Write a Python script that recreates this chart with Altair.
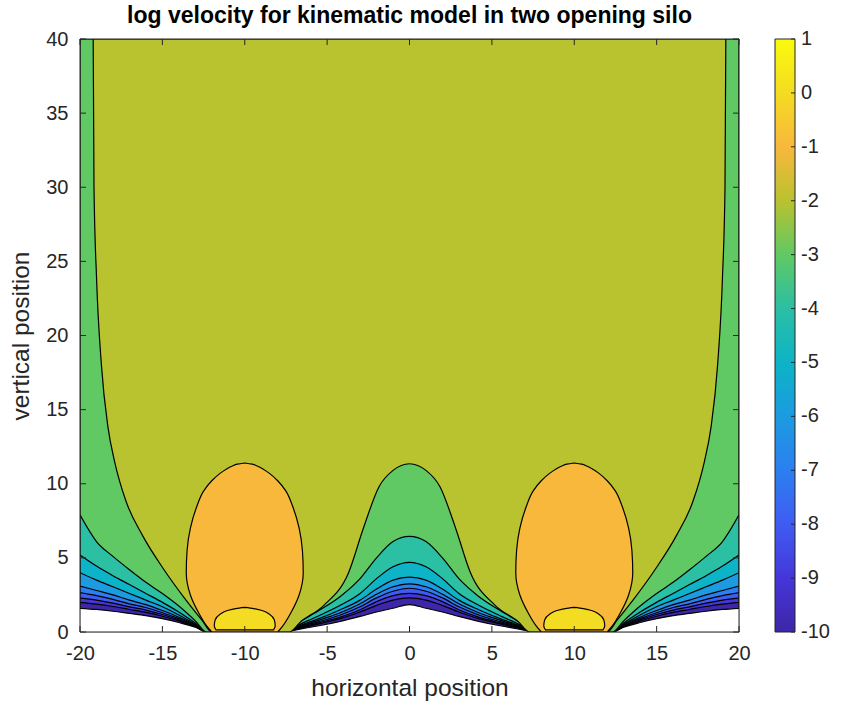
import altair as alt
import pandas as pd

# ---- plot geometry (pixels) ----
W, H = 659, 593
FONT = "Liberation Sans"
AX = "#262626"
TICK_FS = 20
LABEL_FS = 24.5
TITLE_FS = 23
LINE_W = 1.2

# ---- contour levels and their fill colours (parula, one per level) ----
LEVELS = [-10, -9, -8, -7, -6, -5, -4, -3, -2, -1, 0, 1]
PARULA = ["#3e26a8", "#4536d9", "#3f5cf2", "#2c7ff0", "#1c9be0", "#0db3c6",
          "#2bbfa4", "#60c963", "#b9c22f", "#f8b83c", "#f4dc22", "#f9fb0e"]

# ---- contour lines of the lower levels, y sampled at shared x positions ----
X_LOW = [-20, -19, -18, -17, -16, -15, -14, -13, -12.3,
         -7.7, -6.5, -5.5, -4.2, -3, -2, -1, 0, 1, 2, 3, 4.2, 5.5, 6.5, 7.7,
         12.3, 13, 14, 15, 16, 17, 18, 19, 20]
Y_LOW = {
    -3: [7.9, 6.1, 5.1, 4.2, 3.35, 2.6, 1.75, 0.75, 0,
         0, 0.8, 1.45, 2.4, 3.6, 5.0, 6.1, 6.45, 6.1, 5.0, 3.6, 2.4, 1.45, 0.8, 0,
         0, 0.75, 1.75, 2.6, 3.35, 4.2, 5.1, 6.1, 7.9],
    -4: [5.2, 4.45, 3.8, 3.2, 2.6, 2.0, 1.35, 0.6, 0,
         0, 0.6, 1.1, 1.8, 2.6, 3.6, 4.4, 4.7, 4.4, 3.6, 2.6, 1.8, 1.1, 0.6, 0,
         0, 0.6, 1.35, 2.0, 2.6, 3.2, 3.8, 4.45, 5.2],
    -5: [4.0, 3.5, 3.05, 2.6, 2.15, 1.7, 1.15, 0.52, 0,
         0, 0.5, 0.9, 1.5, 2.15, 2.9, 3.5, 3.7, 3.5, 2.9, 2.15, 1.5, 0.9, 0.5, 0,
         0, 0.52, 1.15, 1.7, 2.15, 2.6, 3.05, 3.5, 4.0],
    -6: [3.1, 2.8, 2.5, 2.15, 1.85, 1.45, 1.0, 0.47, 0,
         0, 0.45, 0.8, 1.3, 1.9, 2.55, 3.05, 3.25, 3.05, 2.55, 1.9, 1.3, 0.8, 0.45, 0,
         0, 0.47, 1.0, 1.45, 1.85, 2.15, 2.5, 2.8, 3.1],
    -7: [2.65, 2.45, 2.2, 1.9, 1.65, 1.3, 0.9, 0.43, 0,
         0, 0.4, 0.7, 1.15, 1.7, 2.3, 2.75, 2.95, 2.75, 2.3, 1.7, 1.15, 0.7, 0.4, 0,
         0, 0.43, 0.9, 1.3, 1.65, 1.9, 2.2, 2.45, 2.65],
    -8: [2.3, 2.15, 1.95, 1.7, 1.48, 1.18, 0.82, 0.4, 0,
         0, 0.35, 0.62, 1.0, 1.5, 2.05, 2.45, 2.6, 2.45, 2.05, 1.5, 1.0, 0.62, 0.35, 0,
         0, 0.4, 0.82, 1.18, 1.48, 1.7, 1.95, 2.15, 2.3],
    -9: [2.0, 1.88, 1.72, 1.52, 1.32, 1.06, 0.74, 0.36, 0,
         0, 0.3, 0.55, 0.9, 1.35, 1.8, 2.15, 2.3, 2.15, 1.8, 1.35, 0.9, 0.55, 0.3, 0,
         0, 0.36, 0.74, 1.06, 1.32, 1.52, 1.72, 1.88, 2.0],
    -10: [1.6, 1.52, 1.4, 1.25, 1.1, 0.9, 0.64, 0.32, 0,
          0, 0.22, 0.42, 0.72, 1.05, 1.35, 1.6, 1.85, 1.6, 1.35, 1.05, 0.72, 0.42, 0.22, 0,
          0, 0.32, 0.64, 0.9, 1.1, 1.25, 1.4, 1.52, 1.6],
}

# ---- the -2 contour: rises along both walls, dips to the openings, bump at centre ----
X_M2 = [-19.2, -19.15, -19.0, -18.7, -18.3, -17.9, -17.2, -16.2, -14.9, -13.6, -12.6, -12.0,
        -7.3, -6.6, -5.2, -3.7, -2.8, -1.85, -1, 0, 1, 1.85, 2.8, 3.7, 5.2, 6.6, 7.3,
        12.0, 12.6, 13.6, 14.9, 16.2, 17.2, 17.9, 18.3, 18.7, 19.0, 19.15, 19.2]
Y_M2 = [40, 30, 24, 18, 13.8, 11.5, 8.8, 6.5, 4.2, 2.2, 0.8, 0,
        0, 0.7, 1.8, 4.0, 7.0, 9.8, 10.9, 11.35, 10.9, 9.8, 7.0, 4.0, 1.8, 0.7, 0,
        0, 0.8, 2.2, 4.2, 6.5, 8.8, 11.5, 13.8, 18, 24, 30, 40]

# ---- closed contours above the two openings ----
OPENINGS = [-10, 10]
EGG_Y = [0, 0.4, 1.3, 2.5, 4.0, 5.5, 7.0, 8.5, 9.5, 10.2, 10.7, 11.0, 11.2, 11.32, 11.4]
EGG_HALF = [2.0, 2.3, 2.8, 3.3, 3.55, 3.5, 3.3, 2.9, 2.5, 2.0, 1.5, 1.1, 0.75, 0.45, 0]
CAP_Y = [0.15, 0.4, 0.8, 1.2, 1.45, 1.58, 1.66]
CAP_HALF = [1.75, 1.85, 1.8, 1.5, 1.05, 0.55, 0]

X_TICKS = list(range(-20, 21, 5))
Y_TICKS = list(range(0, 41, 5))

xs = alt.Scale(domain=[-20, 20], nice=False, zero=False)
ys = alt.Scale(domain=[0, 40], nice=False, zero=False)
ls = alt.Scale(domain=[-10, 1], nice=False, zero=False)   # colour-bar axis
cs = alt.Scale(domain=[-10, 1], range=PARULA, interpolate="rgb")
PLAIN = "toString(datum.value)"   # ASCII hyphen for negative numbers

x_axis = alt.Axis(values=X_TICKS, ticks=False, domain=False, grid=False, labelFlush=False,
                  labelFontSize=TICK_FS, labelFont=FONT, labelColor=AX, labelPadding=11,
                  labelExpr=PLAIN, title="horizontal position", titleFontSize=LABEL_FS,
                  titleFont=FONT, titleFontWeight="normal", titleColor=AX, titlePadding=13)
y_axis = alt.Axis(values=Y_TICKS, ticks=False, domain=False, grid=False, labelFlush=False,
                  labelFontSize=TICK_FS, labelFont=FONT, labelColor=AX, labelPadding=12,
                  labelExpr=PLAIN, title="vertical position", titleFontSize=LABEL_FS,
                  titleFont=FONT, titleFontWeight="normal", titleColor=AX, titlePadding=12)

layers = []


def band_layer(df, with_axis):
    return alt.Chart(df).mark_area(
        interpolate="monotone", stroke="black", strokeWidth=LINE_W, clip=True
    ).encode(
        x=alt.X("x:Q", scale=xs, axis=x_axis),
        y=alt.Y("y:Q", scale=ys, axis=y_axis if with_axis else None, stack=None),
        y2=alt.Y2("top:Q"),
        color=alt.Color("level:Q", scale=cs, legend=None),
    )


# filled bands, lowest level first so higher levels paint over them
for i, lev in enumerate([-10, -9, -8, -7, -6, -5, -4, -3]):
    d = pd.DataFrame({"x": X_LOW, "y": Y_LOW[lev], "top": 40.0, "level": lev})
    layers.append(band_layer(d, i == 0))
layers.append(band_layer(pd.DataFrame({"x": X_M2, "y": Y_M2, "top": 40.0, "level": -2}), False))


def closed_layer(ys_, half, level):
    rows = []
    for c in OPENINGS:
        for y, h in zip(ys_, half):
            rows.append({"y": y, "xl": c - h, "xr": c + h, "c": c, "level": level})
    return alt.Chart(pd.DataFrame(rows)).mark_area(
        orient="horizontal", interpolate="monotone", stroke="black", strokeWidth=LINE_W,
        clip=True
    ).encode(
        y=alt.Y("y:Q", scale=ys, axis=None),
        x=alt.X("xl:Q", scale=xs, axis=x_axis, stack=None),
        x2=alt.X2("xr:Q"),
        detail="c:N",
        color=alt.Color("level:Q", scale=cs, legend=None),
    )


layers.append(closed_layer(EGG_Y, EGG_HALF, -1))
layers.append(closed_layer(CAP_Y, CAP_HALF, 0))

# axes box and inward ticks on all four sides
one = pd.DataFrame({"k": [0]})
layers.append(alt.Chart(one).mark_rect(filled=False, stroke=AX, strokeWidth=1).encode(
    x=alt.value(0), x2=alt.value(W), y=alt.value(0), y2=alt.value(H)))
xt = pd.DataFrame({"t": X_TICKS})
yt = pd.DataFrame({"t": Y_TICKS})
TL = 6
layers.append(alt.Chart(xt).mark_rule(color=AX, strokeWidth=1).encode(
    x=alt.X("t:Q", scale=xs, axis=x_axis), y=alt.value(H), y2=alt.value(H - TL)))
layers.append(alt.Chart(xt).mark_rule(color=AX, strokeWidth=1).encode(
    x=alt.X("t:Q", scale=xs, axis=x_axis), y=alt.value(0), y2=alt.value(TL)))
layers.append(alt.Chart(yt).mark_rule(color=AX, strokeWidth=1).encode(
    y=alt.Y("t:Q", scale=ys, axis=None), x=alt.value(0), x2=alt.value(TL)))
layers.append(alt.Chart(yt).mark_rule(color=AX, strokeWidth=1).encode(
    y=alt.Y("t:Q", scale=ys, axis=None), x=alt.value(W), x2=alt.value(W - TL)))

# colour bar: parula gradient, tick marks and labels at every level
CB_X, CB_W = 695, 20
bar_fill = alt.LinearGradient(
    gradient="linear", x1=0, x2=0, y1=1, y2=0,
    stops=[alt.GradientStop(color=c, offset=(v - LEVELS[0]) / (LEVELS[-1] - LEVELS[0]))
           for v, c in zip(LEVELS, PARULA)],
)
layers.append(alt.Chart(one).mark_rect(fill=bar_fill, stroke=AX, strokeWidth=1, clip=False)
              .encode(x=alt.value(CB_X), x2=alt.value(CB_X + CB_W),
                      y=alt.value(0), y2=alt.value(H)))
lev_df = pd.DataFrame({"lev": LEVELS, "label": [str(v) for v in LEVELS]})
layers.append(alt.Chart(lev_df).mark_rule(color=AX, strokeWidth=1, clip=False).encode(
    y=alt.Y("lev:Q", scale=ls, axis=None),
    x=alt.value(CB_X + CB_W), x2=alt.value(CB_X + CB_W - 4)))
layers.append(alt.Chart(lev_df).mark_text(
    align="left", baseline="middle", font=FONT, fontSize=TICK_FS, color=AX, clip=False
).encode(
    y=alt.Y("lev:Q", scale=ls, axis=None),
    x=alt.value(CB_X + CB_W + 6),
    text="label:N"))

chart = alt.layer(*layers).resolve_scale(y="independent").properties(
    width=W, height=H,
    title=alt.TitleParams("log velocity for kinematic model in two opening silo",
                          fontSize=TITLE_FS, fontWeight="bold", font=FONT, color="#000000",
                          anchor="middle", frame="group", offset=1),
    autosize=alt.AutoSizeParams(type="none"),
    padding={"left": 80, "top": 39, "right": 110, "bottom": 75},
).configure_view(stroke=None).configure(background="white")

chart.save("out.html", embed_options={"renderer": "svg", "actions": False})
